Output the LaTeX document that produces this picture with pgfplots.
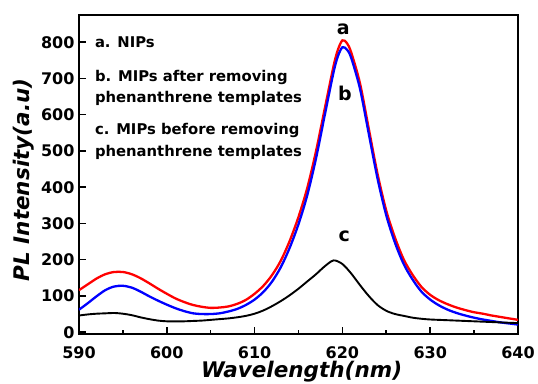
\documentclass[border=0pt]{standalone}
\usepackage{pgfplots}
\pgfplotsset{compat=1.18}
\usepackage{fontspec}
\setmainfont{DejaVu Sans}
\definecolor{cred}{RGB}{255,0,0}
\definecolor{cblue}{RGB}{0,0,255}
\begin{document}
\begin{tikzpicture}
\begin{axis}[
  at={(0,0)}, anchor=south west,
  scale only axis, width=439pt, height=319pt,
  xmin=590, xmax=640, ymin=-5, ymax=875,
  xtick={590,600,...,640}, ytick={0,100,...,800},
  minor xtick={595,605,...,635},
  tick pos=left, tick align=inside,
  major tick length=7pt, minor tick length=4pt,
  every tick/.style={line width=1.6pt, black},
  axis line style={line width=1.8pt},
  /pgf/number format/assume math mode=true,
  /pgf/number format/1000 sep={},
  ticklabel style={font=\bfseries\fontsize{16}{16}\selectfont},
  xticklabel style={yshift=-9pt},
  yticklabel style={xshift=-1pt},
  xlabel={Wavelength(nm)}, ylabel={PL Intensity(a.u)},
  label style={font=\bfseries\itshape\fontsize{21.5}{21.5}\selectfont},
  xlabel style={at={(axis description cs:0.507,-0.118)}, anchor=center},
  ylabel style={at={(axis description cs:-0.1253,0.483)}, anchor=center, rotate=0},
  clip=true,
]
\addplot[cred, line width=2.3pt, smooth] coordinates {
(590,116) (591,132) (592,148) (593,160) (594,166) (595,166) (596,160) (597,149)
(598,135) (599,120) (600,106) (601,93) (602,83) (603,75) (604,70) (605,67)
(606,68) (607,71) (608,78) (609,89) (610,106) (611,128) (612,158) (613,198)
(614,252) (615,318) (616,398) (617,500) (618,618) (619,735) (619.5,780) (620,805)
(620.5,798) (621,772) (622,687) (623,562) (624,437) (625,335) (626,260) (627,200)
(628,158) (629,125) (630,103) (631,88) (632,77) (633,68) (634,61) (635,55)
(636,51) (637,46) (638,42) (639,38) (640,34)
};
\addplot[cblue, line width=2.3pt, smooth] coordinates {
(590,62) (591,80) (592,99) (593,116) (594,126) (595,128) (596,123) (597,112)
(598,99) (599,87) (600,76) (601,66) (602,58) (603,52) (604,50) (605,50)
(606,52) (607,57) (608,64) (609,75) (610,90) (611,111) (612,140) (613,180)
(614,233) (615,298) (616,378) (617,480) (618,600) (619,718) (619.5,762) (620,786)
(620.5,780) (621,757) (622,672) (623,548) (624,424) (625,322) (626,246) (627,187)
(628,145) (629,112) (630,90) (631,74) (632,62) (633,53) (634,46) (635,40)
(636,35) (637,31) (638,27) (639,24) (640,21)
};
\addplot[black, line width=1.9pt, smooth] coordinates {
(590,46) (591,49) (592,51) (593,52) (594,53) (595,51) (596,47) (597,41)
(598,36) (599,32) (600,30) (601,30) (602,30) (603,31) (604,32) (605,34)
(606,36) (607,38) (608,41) (609,45) (610,51) (611,60) (612,72) (613,86)
(614,102) (615,120) (616,140) (617,160) (618,182) (619,198) (620,188) (621,162)
(622,130) (623,100) (624,75) (625,59) (626,50) (627,45) (628,40) (629,37)
(630,35) (631,34) (632,33) (633,32) (634,31) (635,30) (636,29) (637,28)
(638,27) (639,26) (640,25)
};
\node[font=\bfseries\fontsize{19}{19}\selectfont] at (axis cs:620.1,836) {a};
\node[font=\bfseries\fontsize{19}{19}\selectfont] at (axis cs:620.3,659) {b};
\node[font=\bfseries\fontsize{19}{19}\selectfont] at (axis cs:620.2,265) {c};
\node[anchor=west, font=\bfseries\fontsize{14.8}{14.8}\selectfont, inner sep=0pt] at (axis cs:591.8,801) {a. NIPs};
\node[anchor=west, align=left, font=\bfseries\fontsize{14.8}{21.7}\selectfont, inner sep=0pt] at (axis cs:591.8,674) {b. MIPs after removing\\phenanthrene templates};
\node[anchor=west, align=left, font=\bfseries\fontsize{14.8}{21.7}\selectfont, inner sep=0pt] at (axis cs:591.8,527) {c. MIPs before removing\\phenanthrene templates};
\end{axis}
\pgfresetboundingbox
\path (-79pt,-49pt) rectangle (459pt,334pt);
\end{tikzpicture}
\end{document}
